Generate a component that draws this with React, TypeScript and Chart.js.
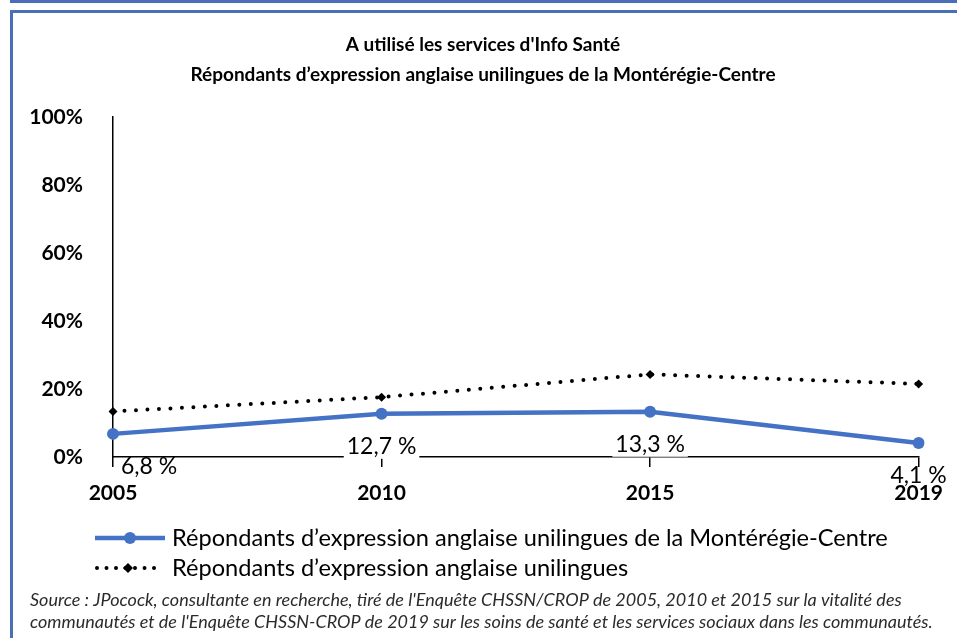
import React, { useEffect, useRef } from 'react';
import { Chart, registerables } from 'chart.js';
Chart.register(...registerables);

const FONT = 'Lato, "Open Sans", sans-serif';

const titleLines = ["A utilisé les services d'Info Santé", 'Répondants d’expression anglaise unilingues de la Montérégie-Centre'];
const years = ['2005', '2010', '2015', '2019'];
const monteregieValues = [6.8, 12.7, 13.3, 4.1];
const monteregieLabels = ['6,8 %', '12,7 %', '13,3 %', '4,1 %'];
const unilingualValues = [13.4, 17.6, 24.3, 21.5];
const seriesNames = ['Répondants d’expression anglaise unilingues de la Montérégie-Centre', 'Répondants d’expression anglaise unilingues'];
const sourceLines = [
  "Source : JPocock, consultante en recherche, tiré de l'Enquête CHSSN/CROP de 2005, 2010 et 2015 sur la vitalité des",
  "communautés et de l'Enquête CHSSN-CROP de 2019 sur les soins de santé et les services sociaux dans les communautés.",
];

const BLUE = '#4472C4';

const decor = {
  id: 'decor',
  afterDraw(chart: any) {
    const ctx = chart.ctx;
    const area = chart.chartArea;
    ctx.save();
    // title
    ctx.fillStyle = '#000';
    ctx.textAlign = 'center';
    ctx.textBaseline = 'middle';
    ctx.font = `bold 19px ${FONT}`;
    ctx.fillText(titleLines[0], 483, 45);
    ctx.fillText(titleLines[1], 483, 75);

    // data labels
    const meta = chart.getDatasetMeta(0);
    ctx.font = `23px ${FONT}`;
    meta.data.forEach((pt: any, i: number) => {
      const txt = monteregieLabels[i];
      const w = ctx.measureText(txt).width;
      let x = pt.x - w / 2;
      if (x < area.left) x = area.left + 8;
      const cy = pt.y + 33;
      if (cy < area.bottom) {
        ctx.fillStyle = '#fff';
        ctx.fillRect(x - 3, cy - 12, w + 6, 24);
      }
      ctx.fillStyle = '#000';
      ctx.textAlign = 'left';
      ctx.textBaseline = 'middle';
      ctx.fillText(txt, x, cy);
    });

    // legend
    const ly = [538, 568];
    ctx.strokeStyle = BLUE;
    ctx.lineWidth = 4.5;
    ctx.setLineDash([]);
    ctx.beginPath();
    ctx.moveTo(95, ly[0]);
    ctx.lineTo(165, ly[0]);
    ctx.stroke();
    ctx.fillStyle = BLUE;
    ctx.beginPath();
    ctx.arc(130, ly[0], 6, 0, Math.PI * 2);
    ctx.fill();

    ctx.strokeStyle = '#000';
    ctx.lineWidth = 4;
    ctx.lineCap = 'round';
    ctx.setLineDash([0, 9.5]);
    ctx.beginPath();
    ctx.moveTo(97, ly[1]);
    ctx.lineTo(160, ly[1]);
    ctx.stroke();
    ctx.setLineDash([]);
    ctx.fillStyle = '#000';
    ctx.beginPath();
    ctx.moveTo(128, ly[1] - 5);
    ctx.lineTo(133, ly[1]);
    ctx.lineTo(128, ly[1] + 5);
    ctx.lineTo(123, ly[1]);
    ctx.closePath();
    ctx.fill();

    ctx.fillStyle = '#000';
    ctx.textAlign = 'left';
    ctx.textBaseline = 'middle';
    ctx.font = `23.6px ${FONT}`;
    ctx.fillText(seriesNames[0], 172, ly[0]);
    ctx.fillText(seriesNames[1], 172, ly[1]);

    // source
    ctx.font = `italic 18px ${FONT}`;
    ctx.fillStyle = '#2b2b2b';
    ctx.fillText(sourceLines[0], 30, 600);
    ctx.fillText(sourceLines[1], 30, 622);
    ctx.restore();
  },
};

export default function App() {
  const ref = useRef<HTMLCanvasElement>(null);
  useEffect(() => {
    const chart = new Chart(ref.current as HTMLCanvasElement, {
      type: 'line',
      data: {
        labels: years,
        datasets: [
          {
            label: seriesNames[0],
            data: monteregieValues,
            borderColor: BLUE,
            backgroundColor: BLUE,
            borderWidth: 4.5,
            pointStyle: 'circle',
            pointRadius: 6,
            pointBorderWidth: 0,
            tension: 0,
          },
          {
            label: seriesNames[1],
            data: unilingualValues,
            borderColor: '#000',
            backgroundColor: '#000',
            borderWidth: 4,
            borderDash: [0, 11.5],
            borderCapStyle: 'round',
            pointStyle: 'rectRot',
            pointRadius: 4.5,
            pointBorderWidth: 0,
            tension: 0,
          },
        ],
      },
      options: {
        responsive: false,
        animation: false,
        layout: { padding: { top: 117, right: 37, bottom: 0, left: 0 } },
        plugins: { legend: { display: false }, title: { display: false }, tooltip: { enabled: false } },
        scales: {
          x: {
            type: 'category',
            offset: false,
            afterFit: (s: any) => { s.height = 181; },
            grid: { display: true, drawOnChartArea: false, drawTicks: true, tickLength: 10, color: '#000', lineWidth: 1.5 },
            border: { display: true, color: '#000', width: 1.5 },
            ticks: { color: '#000', font: { family: FONT, size: 21, weight: 'bold' }, padding: 14, maxRotation: 0, autoSkip: false },
          },
          y: {
            min: 0,
            max: 100,
            afterFit: (s: any) => { s.width = 113; },
            grid: { display: false },
            border: { display: true, color: '#000', width: 1.5 },
            ticks: { stepSize: 20, color: '#000', font: { family: FONT, size: 21, weight: 'bold' }, padding: 22, callback: (v: any) => v + '%' },
          },
        },
      },
      plugins: [decor],
    } as any);
    return () => chart.destroy();
  }, []);

  const line = { position: 'absolute' as const, background: '#4a6fb7' };
  return (
    <div style={{ position: 'fixed', left: 0, top: 0, width: 957, height: 638, background: '#fff', overflow: 'hidden' }}>
      <canvas ref={ref} width={957} height={638} style={{ position: 'absolute', left: 0, top: 0, width: 957, height: 638 }} />
      <div style={{ ...line, left: 10, top: 0, width: 947, height: 3 }} />
      <div style={{ ...line, left: 10, top: 10, width: 947, height: 3 }} />
      <div style={{ ...line, left: 10, top: 10, width: 3, height: 628 }} />
    </div>
  );
}
